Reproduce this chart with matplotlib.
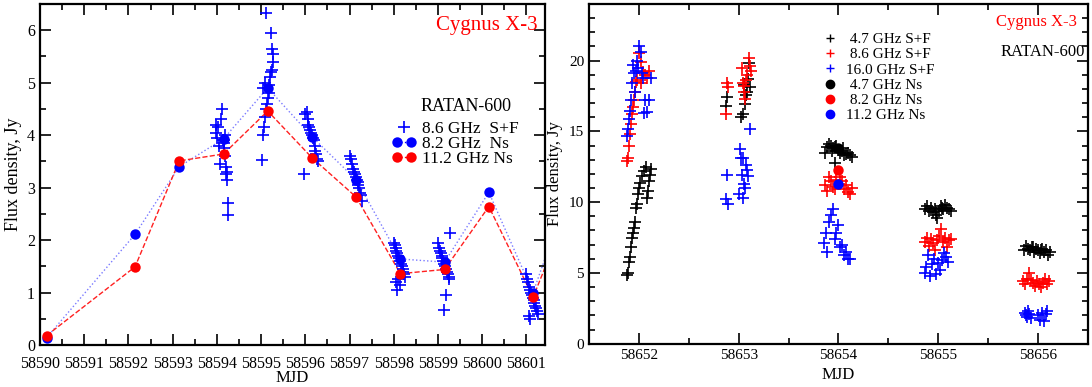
import matplotlib
matplotlib.use("Agg")
import matplotlib.pyplot as plt
from matplotlib.ticker import MultipleLocator
from matplotlib.legend_handler import HandlerLine2D
from matplotlib.lines import Line2D

plt.rcParams["font.family"] = ["Liberation Serif", "DejaVu Serif"]

# ---------------- left panel: April 2019 flare ----------------
# Ns daily values
ns_mjd = [58590.15, 58592.15, 58593.15, 58594.15, 58595.15, 58596.15,
          58597.15, 58598.15, 58599.15, 58600.15, 58601.15, 58602.15]
ns_82 = [0.14, 2.11, 3.40, 3.93, 4.90, 3.97, 3.15, 1.64, 1.58, 2.91, 1.00, 3.4]
ns_112 = [0.18, 1.49, 3.51, 3.64, 4.46, 3.57, 2.82, 1.36, 1.44, 2.64, 0.91, 3.0]

# 8.6 GHz S+F scans (MJD, flux)
sf86_mjd = [
    58593.97, 58593.99, 58594.01, 58594.03, 58594.05, 58594.07, 58594.09, 58594.11,
    58594.13, 58594.15, 58594.17, 58594.19, 58594.21, 58594.23, 58594.20, 58594.22,
    58594.18, 58594.16, 58594.26, 58594.25,
    58595.02, 58595.05, 58595.07, 58595.09, 58595.11, 58595.13, 58595.15, 58595.17,
    58595.19, 58595.21, 58595.23, 58595.25, 58595.27, 58595.28, 58595.24, 58595.22,
    58595.10, 58595.04, 58595.08,
    58596.00, 58596.03, 58596.05, 58596.07, 58596.09, 58596.11, 58596.13, 58596.15,
    58596.17, 58596.19, 58596.21, 58596.23, 58596.25, 58596.27, 58596.29, 58595.98,
    58597.02, 58597.04, 58597.06, 58597.08, 58597.10, 58597.12, 58597.14, 58597.16,
    58597.18, 58597.20, 58597.22, 58597.24, 58597.26, 58597.28,
    58598.00, 58598.02, 58598.04, 58598.06, 58598.08, 58598.10, 58598.12, 58598.14,
    58598.16, 58598.18, 58598.20, 58598.22, 58598.24, 58598.26, 58598.10, 58598.06,
    58598.14, 58598.08,
    58599.00, 58599.02, 58599.04, 58599.06, 58599.08, 58599.10, 58599.12, 58599.14,
    58599.16, 58599.18, 58599.20, 58599.22, 58599.24, 58599.26, 58599.28, 58599.18,
    58599.13,
    58601.00, 58601.02, 58601.04, 58601.06, 58601.08, 58601.10, 58601.12, 58601.14,
    58601.16, 58601.18, 58601.20, 58601.22, 58601.24, 58601.26, 58601.05, 58601.09,
]
sf86_flux = [
    4.05, 4.20, 3.95, 4.15, 3.80, 3.45, 4.30, 4.49,
    3.90, 3.85, 3.75, 3.60, 3.40, 3.30, 3.25, 3.15,
    4.00, 3.90, 2.70, 2.47,
    3.52, 4.00, 4.15, 4.35, 4.50, 4.60, 4.70, 4.80,
    4.95, 5.10, 5.20, 5.25, 5.40, 5.55, 5.65, 5.94,
    6.32, 4.90, 5.00,
    4.40, 4.45, 4.30, 4.20, 4.15, 4.10, 4.05, 4.00,
    3.95, 3.90, 3.80, 3.70, 3.65, 3.55, 3.50, 3.25,
    3.60, 3.55, 3.45, 3.35, 3.30, 3.25, 3.20, 3.15,
    3.10, 3.05, 3.00, 2.90, 2.85, 2.75,
    1.95, 1.90, 1.85, 1.80, 1.75, 1.70, 1.65, 1.60,
    1.55, 1.50, 1.45, 1.40, 1.35, 1.30, 1.25, 1.20,
    1.15, 1.05,
    1.95, 1.85, 1.80, 1.75, 1.70, 1.65, 1.60, 1.55,
    1.50, 1.45, 1.40, 1.35, 1.30, 1.25, 2.14, 0.96,
    0.66,
    1.35, 1.25, 1.20, 1.10, 1.05, 1.00, 0.95, 0.90,
    0.85, 0.80, 0.75, 0.70, 0.65, 0.60, 0.55, 0.50,
]

# ---------------- right panel: June 2019 ----------------
sf47_mjd = [
    58651.88, 58651.89, 58651.90, 58651.91, 58651.92, 58651.93, 58651.94, 58651.95,
    58651.96, 58651.97, 58651.98, 58651.99, 58652.00, 58652.01, 58652.03, 58652.05,
    58652.07, 58652.08, 58652.09, 58652.10, 58652.11, 58652.12,
    58652.87, 58652.88, 58653.02, 58653.04, 58653.06, 58653.07, 58653.08, 58653.09,
    58653.10, 58653.11, 58653.05,
    58653.86, 58653.88, 58653.90, 58653.92, 58653.94, 58653.96, 58653.98, 58654.00,
    58654.02, 58654.04, 58654.06, 58654.08, 58654.10, 58654.12, 58654.14, 58653.97,
    58653.93, 58654.05,
    58654.87, 58654.89, 58654.91, 58654.93, 58654.95, 58654.97, 58654.99, 58655.01,
    58655.03, 58655.05, 58655.07, 58655.09, 58655.11, 58655.13, 58654.98, 58655.04,
    58655.86, 58655.88, 58655.90, 58655.92, 58655.94, 58655.96, 58655.98, 58656.00,
    58656.02, 58656.04, 58656.06, 58656.08, 58656.10, 58656.12, 58655.95, 58656.03,
]
sf47_flux = [
    4.85, 5.00, 5.75, 6.10, 6.80, 7.50, 7.80, 8.20,
    8.60, 9.60, 9.90, 10.60, 11.00, 11.35, 11.85, 12.20,
    12.45, 10.30, 10.80, 11.50, 11.90, 12.35,
    16.80, 17.40, 16.00, 16.20, 16.90, 17.60, 17.80, 18.70,
    19.80, 18.10, 18.30,
    13.50, 13.90, 14.10, 14.00, 13.80, 13.90, 14.00, 13.70,
    13.50, 13.60, 13.30, 13.40, 13.50, 13.30, 13.20, 12.80,
    13.60, 13.80,
    9.50, 9.70, 9.40, 9.60, 9.30, 9.50, 8.90, 9.40,
    9.70, 9.50, 9.80, 9.60, 9.50, 9.40, 9.10, 9.60,
    6.60, 6.90, 6.70, 6.60, 6.80, 6.50, 6.70, 6.60,
    6.40, 6.70, 6.50, 6.60, 6.30, 6.50, 6.80, 6.60,
]

sf86r_mjd = [
    58651.88, 58651.89, 58651.90, 58651.91, 58651.92, 58651.93, 58651.94, 58651.95,
    58651.96, 58651.97, 58651.98, 58652.00, 58652.02, 58652.04, 58652.06, 58652.08,
    58652.10, 58652.02,
    58652.88, 58652.89, 58652.87, 58653.03, 58653.04, 58653.05, 58653.06, 58653.07,
    58653.08, 58653.10, 58653.11, 58653.12, 58653.05,
    58653.86, 58653.88, 58653.90, 58653.92, 58653.94, 58653.96, 58653.98, 58654.02,
    58654.04, 58654.06, 58654.08, 58654.10, 58654.12, 58654.14,
    58654.87, 58654.89, 58654.91, 58654.93, 58654.95, 58654.97, 58654.99, 58655.01,
    58655.03, 58655.05, 58655.07, 58655.09, 58655.11, 58655.13,
    58655.85, 58655.87, 58655.89, 58655.91, 58655.93, 58655.95, 58655.97, 58655.99,
    58656.01, 58656.03, 58656.05, 58656.07, 58656.09, 58656.11,
]
sf86r_flux = [
    12.90, 13.10, 13.95, 14.80, 15.50, 16.20, 16.70, 17.20,
    17.80, 18.50, 18.60, 20.55, 19.90, 19.20, 19.00, 18.80,
    19.30, 18.40,
    18.45, 18.10, 16.25, 19.50, 18.45, 17.80, 17.30, 18.60,
    19.00, 20.20, 19.60, 19.30, 18.20,
    11.20, 10.80, 11.80, 11.50, 11.10, 10.90, 11.60, 11.80,
    11.50, 10.90, 11.20, 10.75, 10.60, 11.00,
    7.20, 7.50, 6.90, 7.40, 7.10, 6.60, 7.30, 7.60,
    8.10, 7.20, 7.50, 6.80, 7.30, 7.40,
    4.40, 4.20, 4.60, 5.00, 4.50, 4.30, 4.10, 4.40,
    4.20, 4.00, 4.30, 4.60, 4.20, 4.40,
]

sf160_mjd = [
    58651.88, 58651.89, 58651.90, 58651.91, 58651.92, 58651.93, 58651.94, 58651.95,
    58651.96, 58651.97, 58651.98, 58651.99, 58652.00, 58652.02, 58652.04, 58652.06,
    58652.08, 58652.10, 58652.12, 58652.05, 58652.03,
    58652.88, 58652.89, 58652.87, 58653.00, 58653.01, 58653.02, 58653.03, 58653.04,
    58653.05, 58653.06, 58653.07, 58653.08, 58653.09, 58653.11, 58653.04,
    58653.85, 58653.87, 58653.88, 58653.90, 58653.92, 58653.94, 58653.96, 58653.98,
    58654.00, 58654.02, 58654.04, 58654.06, 58654.08, 58654.10, 58654.12,
    58654.87, 58654.88, 58654.90, 58654.92, 58654.94, 58654.96, 58654.98, 58655.00,
    58655.02, 58655.04, 58655.06, 58655.08, 58655.10,
    58655.87, 58655.88, 58655.89, 58655.90, 58655.91, 58655.93, 58656.00, 58656.02,
    58656.04, 58656.06, 58656.08, 58656.09,
]
sf160_flux = [
    14.65, 15.20, 15.90, 16.45, 17.20, 18.45, 19.70, 19.10,
    17.80, 19.30, 20.00, 19.50, 21.00, 20.60, 18.80, 17.20,
    16.40, 17.20, 18.80, 16.30, 19.10,
    11.95, 9.90, 10.20, 10.60, 13.75, 13.10, 11.90, 10.30,
    11.30, 11.00, 12.60, 12.30, 11.85, 15.20, 13.10,
    7.10, 7.80, 6.50, 8.60, 9.10, 9.50, 7.40, 7.80,
    8.40, 6.80, 7.00, 6.30, 6.50, 6.00, 5.95,
    5.00, 5.40, 6.30, 4.80, 5.60, 6.00, 4.90, 5.70,
    5.20, 5.90, 6.40, 6.10, 5.80,
    2.20, 2.00, 1.90, 2.30, 2.10, 1.80, 2.00, 1.70,
    2.20, 1.60, 2.10, 2.30,
]

ns2_mjd = [58654.0]
ns2_47 = [13.8]
ns2_82 = [12.3]
ns2_112 = [11.3]

# ---------------- figure ----------------
fig = plt.figure(figsize=(10.92, 3.87), dpi=100)
axL = fig.add_axes([0.0366, 0.1085, 0.4625, 0.8812])
axR = fig.add_axes([0.5394, 0.1119, 0.4569, 0.8778])

cross = dict(marker="+", linestyle="none", markersize=8, markeredgewidth=1.2)
dot = dict(marker="o", markersize=7.5, markeredgewidth=0)

# left
axL.plot(sf86_mjd, sf86_flux, color="#0000ff", zorder=3, **cross)
axL.plot(ns_mjd, ns_82, color="#7a7aff", linestyle=":", linewidth=1.0, zorder=2)
axL.plot(ns_mjd, ns_82, color="#0000ff", linestyle="none", zorder=4, **dot)
axL.plot(ns_mjd, ns_112, color="#ff2020", linestyle="--", linewidth=1.0, zorder=2)
axL.plot(ns_mjd, ns_112, color="#ff0000", linestyle="none", zorder=5, **dot)

axL.set_xlim(58590, 58601.42)
axL.set_ylim(0, 6.5)
axL.xaxis.set_major_locator(MultipleLocator(1))
axL.xaxis.set_minor_locator(MultipleLocator(0.5))
axL.yaxis.set_major_locator(MultipleLocator(1))
axL.yaxis.set_minor_locator(MultipleLocator(0.5))
axL.xaxis.get_major_formatter().set_useOffset(False)
axL.set_xlabel("MJD", fontsize=12)
axL.xaxis.set_label_coords(0.5, -0.074)
axL.set_ylabel("Flux density, Jy", fontsize=13, labelpad=4)

axL.text(0.985, 0.965, "Cygnus X-3", color="#ff0000", fontsize=15,
         ha="right", va="top", transform=axL.transAxes)
axL.text(0.8436, 0.70, "RATAN-600", color="black", fontsize=13,
         ha="center", va="center", transform=axL.transAxes)

h1 = Line2D([], [], color="#0000ff", **cross)
h2 = Line2D([], [], color="#0000ff", linestyle=":", linewidth=1.0, **dot)
h3 = Line2D([], [], color="#ff0000", linestyle="--", linewidth=1.0, **dot)
axL.legend([h1, h2, h3], ["8.6 GHz  S+F", "8.2 GHz  Ns", "11.2 GHz Ns"],
           loc="upper left", bbox_to_anchor=(0.696, 0.657), frameon=False,
           fontsize=12.5, numpoints=2, handlelength=1.45, handletextpad=0.33,
           labelspacing=-0.08, borderaxespad=0, borderpad=0,
           handler_map={h1: HandlerLine2D(numpoints=1)})

# right
axR.plot(sf47_mjd, sf47_flux, color="black", zorder=3, **cross)
axR.plot(sf86r_mjd, sf86r_flux, color="#ff0000", zorder=3, **cross)
axR.plot(sf160_mjd, sf160_flux, color="#0000ff", zorder=3, **cross)
axR.plot(ns2_mjd, ns2_47, color="black", linestyle="none", zorder=4, **dot)
axR.plot(ns2_mjd, ns2_82, color="#ff0000", linestyle="none", zorder=4, **dot)
axR.plot(ns2_mjd, ns2_112, color="#0000ff", linestyle="none", zorder=5, **dot)

axR.set_xlim(58651.5, 58656.5)
axR.set_ylim(0, 24)
axR.xaxis.set_major_locator(MultipleLocator(1))
axR.xaxis.set_minor_locator(MultipleLocator(0.5))
axR.yaxis.set_major_locator(MultipleLocator(5))
axR.yaxis.set_minor_locator(MultipleLocator(1))
axR.xaxis.get_major_formatter().set_useOffset(False)
axR.set_xlabel("MJD", fontsize=12, labelpad=4)
axR.set_ylabel("Flux density, Jy", fontsize=12, labelpad=4)

axR.text(0.978, 0.948, "Cygnus X-3", color="#ff0000", fontsize=12,
         ha="right", va="center", transform=axR.transAxes)
axR.text(0.994, 0.86, "RATAN-600", color="black", fontsize=12,
         ha="right", va="center", transform=axR.transAxes)

r_handles = [
    Line2D([], [], color="black", marker="+", linestyle="none", markersize=6),
    Line2D([], [], color="#ff0000", marker="+", linestyle="none", markersize=6),
    Line2D([], [], color="#0000ff", marker="+", linestyle="none", markersize=6),
    Line2D([], [], color="black", marker="o", linestyle="none", markersize=6),
    Line2D([], [], color="#ff0000", marker="o", linestyle="none", markersize=6),
    Line2D([], [], color="#0000ff", marker="o", linestyle="none", markersize=6),
]
r_labels = [" 4.7 GHz S+F", " 8.6 GHz S+F", "16.0 GHz S+F",
            " 4.7 GHz Ns", " 8.2 GHz Ns", "11.2 GHz Ns"]
axR.legend(r_handles, r_labels, loc="upper left", bbox_to_anchor=(0.465, 0.916),
           frameon=False, fontsize=11, handlelength=1.2, handletextpad=0.45,
           labelspacing=0.1, borderaxespad=0, borderpad=0)

for ax, fs in ((axL, 11.5), (axR, 11)):
    ax.tick_params(which="both", direction="in", top=True, right=True,
                   labelsize=fs, width=1.2)
    ax.tick_params(which="major", length=8)
    ax.tick_params(which="minor", length=4)
    for sp in ax.spines.values():
        sp.set_linewidth(1.6)
axL.tick_params(axis="x", pad=8)

fig.savefig("out.png", dpi=100)
